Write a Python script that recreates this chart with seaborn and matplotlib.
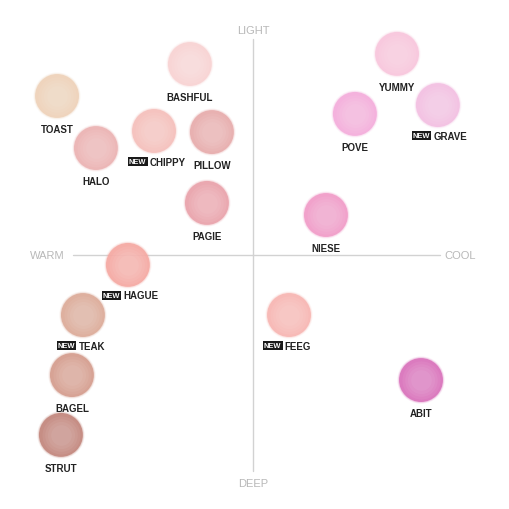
import matplotlib
matplotlib.use("Agg")
import matplotlib.pyplot as plt
import seaborn as sns
import pandas as pd

# ---- data (warm(-) / cool(+) ; deep(-) / light(+)) ----
names = ["BASHFUL", "TOAST", "HALO", "CHIPPY", "PILLOW", "PAGIE",
         "YUMMY", "GRAVE", "POVE", "NIESE",
         "HAGUE", "TEAK", "BAGEL", "STRUT",
         "FEEG", "ABIT"]
warmth = [-2.92, -9.07, -7.27, -4.58, -1.90, -2.13,
          6.67, 8.56, 4.72, 3.38,
          -5.79, -7.87, -8.38, -8.89,
          1.67, 7.78]
lightness = [8.84, 7.36, 4.95, 5.74, 5.69, 2.41,
             9.31, 6.94, 6.53, 1.85,
             -0.46, -2.78, -5.56, -8.33,
             -2.78, -5.79]
is_new = [False, False, False, True, False, False,
          False, True, False, False,
          True, True, False, False,
          True, False]
colors = ["#f8d3d3", "#eed2b9", "#ebb3b3", "#f5bfbb", "#e7acac", "#e9a3ab",
          "#f8c6dc", "#f3bfe2", "#f4addb", "#f19cc8",
          "#f5a9a3", "#dcab99", "#d59d8e", "#c3877d",
          "#f7b6b2", "#d972bb"]
axis_words = ["LIGHT", "DEEP", "WARM", "COOL"]

df = pd.DataFrame({"name": names, "warmth": warmth, "lightness": lightness,
                   "new": is_new, "color": colors})

sns.set_theme(style="white")
plt.rcParams['font.family'] = ['Liberation Sans', 'DejaVu Sans']

fig = plt.figure(figsize=(5.1, 5.1), dpi=100)
ax = fig.add_axes([0, 0, 1, 1])
ax.set_xlim(-11.71, 11.90)
ax.set_ylim(-11.76, 11.85)
ax.axis("off")

# cross axes
ax.plot([-8.33, 8.66], [0, 0], color="#d2d2d2", lw=1.0, zorder=0)
ax.plot([0, 0], [-10, 10], color="#d2d2d2", lw=1.0, zorder=0)
ax.text(0, 10.4, axis_words[0], ha="center", va="center", color="#b8b8b8", fontsize=8)
ax.text(0, -10.55, axis_words[1], ha="center", va="center", color="#b8b8b8", fontsize=8)
ax.text(-9.5, 0, axis_words[2], ha="center", va="center", color="#b8b8b8", fontsize=8)
ax.text(9.6, 0, axis_words[3], ha="center", va="center", color="#b8b8b8", fontsize=8)

S = 1000
pal = dict(zip(names, colors))
# soft edges
for k, a in [(1.16, 0.12), (1.08, 0.25)]:
    sns.scatterplot(data=df, x="warmth", y="lightness", hue="name",
                    palette=pal, s=S * k, alpha=a,
                    linewidth=0, legend=False, ax=ax, zorder=2)
# main body
sns.scatterplot(data=df, x="warmth", y="lightness", hue="name",
                palette=pal, s=S, alpha=0.9,
                linewidth=0, legend=False, ax=ax, zorder=3)
# gentle watercolour highlight (stacked faint layers)
for k in [0.75, 0.55, 0.38, 0.22]:
    ax.scatter(df["warmth"], df["lightness"], s=S * k, color="white",
               alpha=0.06, linewidth=0, zorder=4)

for _, r in df.iterrows():
    if r["new"]:
        ax.annotate(r["name"], (r["warmth"], r["lightness"]),
                    xytext=(-3, -22), textcoords="offset points",
                    ha="left", va="center", fontsize=7,
                    fontweight="bold", color="#222222", zorder=5)
        ax.annotate("NEW", (r["warmth"], r["lightness"]),
                    xytext=(-5.5, -22), textcoords="offset points",
                    ha="right", va="center", fontsize=5.4,
                    fontweight="bold", color="white", zorder=5,
                    bbox=dict(boxstyle="square,pad=0.15", fc="#1a1a1a",
                              ec="none"))
    else:
        ax.annotate(r["name"], (r["warmth"], r["lightness"]),
                    xytext=(0, -24), textcoords="offset points",
                    ha="center", va="center", fontsize=7,
                    fontweight="bold", color="#222222", zorder=5)

fig.savefig("out.png", dpi=100, facecolor="white")
